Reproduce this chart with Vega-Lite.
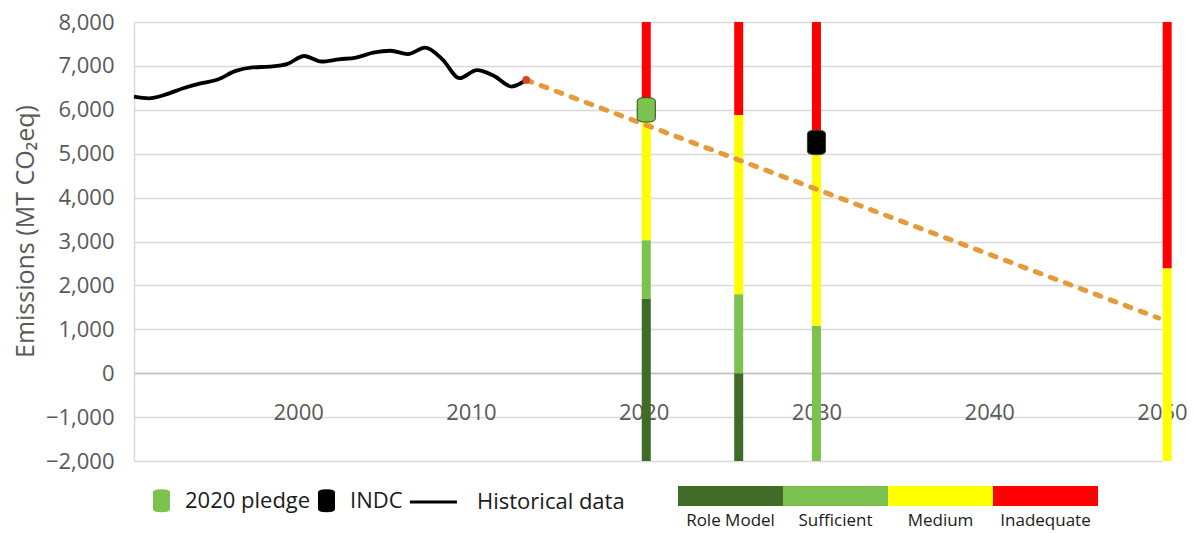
{
  "$schema": "https://vega.github.io/schema/vega-lite/v6.json",
  "width": 1028,
  "height": 439,
  "autosize": {"type": "none"},
  "padding": {"left": 134, "top": 22, "right": 33, "bottom": 72},
  "background": "white",
  "config": {"view": {"stroke": null}},
  "encoding": {
    "x": {
      "field": "year", "type": "quantitative",
      "scale": {"domain": [1990.5, 2050], "nice": false, "zero": false, "padding": 0},
      "axis": {
        "orient": "bottom", "offset": -88, "title": null,
        "values": [2000, 2010, 2020, 2030, 2040, 2050], "format": "d",
        "labelFont": "Open Sans", "labelFontSize": 22, "labelColor": "#595959",
        "labelPadding": 39, "labelBaseline": "middle", "ticks": false, "tickSize": 0,
        "domainColor": "#bfbfbf", "domainWidth": 1.5, "grid": false, "labelFlush": false, "labelOverlap": false
      }
    }
  },
  "layer": [
    {
      "data": {"values": [
        {"year": 2020.15, "rating": "Role Model", "low": -2000, "high": 1700},
        {"year": 2020.15, "rating": "Sufficient", "low": 1700, "high": 3030},
        {"year": 2020.15, "rating": "Medium", "low": 3030, "high": 6000},
        {"year": 2020.15, "rating": "Inadequate", "low": 6000, "high": 8000},
        {"year": 2025.5, "rating": "Role Model", "low": -2000, "high": 0},
        {"year": 2025.5, "rating": "Sufficient", "low": 0, "high": 1800},
        {"year": 2025.5, "rating": "Medium", "low": 1800, "high": 5880},
        {"year": 2025.5, "rating": "Inadequate", "low": 5880, "high": 8000},
        {"year": 2030, "rating": "Sufficient", "low": -2000, "high": 1080},
        {"year": 2030, "rating": "Medium", "low": 1080, "high": 5250},
        {"year": 2030, "rating": "Inadequate", "low": 5250, "high": 8000},
        {"year": 2050.3, "rating": "Medium", "low": -2000, "high": 2390},
        {"year": 2050.3, "rating": "Inadequate", "low": 2390, "high": 8000}
      ]},
      "mark": {"type": "bar", "width": 9, "clip": false},
      "encoding": {
        "y": {
          "field": "low", "type": "quantitative",
          "scale": {"domain": [-2000, 8000], "nice": false, "zero": false},
          "axis": {
            "values": [-2000, -1000, 0, 1000, 2000, 3000, 4000, 5000, 6000, 7000, 8000],
            "format": ",.0f",
            "labelFont": "Open Sans", "labelFontSize": 22, "labelColor": "#595959",
            "labelPadding": 20, "ticks": false, "tickSize": 0,
            "domainColor": "#d9d9d9", "domainWidth": 1.5,
            "grid": true, "gridColor": "#d9d9d9", "gridWidth": 1.5,
            "title": "Emissions (MT CO₂eq)",
            "titleFont": "Open Sans", "titleFontSize": 25, "titleFontWeight": "normal",
            "titleColor": "#595959", "titleX": -109, "titleY": 209, "titleBaseline": "middle", "titleAngle": 270
          }
        },
        "y2": {"field": "high"},
        "color": {
          "field": "rating", "type": "nominal",
          "scale": {"domain": ["Role Model", "Sufficient", "Medium", "Inadequate"], "range": ["#3e6b26", "#7cc24e", "#ffff00", "#ff0000"]},
          "legend": {
            "orient": "none", "legendX": 544, "legendY": 464, "direction": "horizontal",
            "title": null, "padding": 0, "columnPadding": 0,
            "symbolSize": 400, "symbolType": "M-1,-1H9.5V1H-1Z", "symbolStrokeWidth": 0,
            "labelFont": "Open Sans", "labelFontSize": 17, "labelColor": "#1a1a1a",
            "labelAlign": "center", "labelOffset": 32.5,
            "encode": {"labels": {"update": {"dy": {"value": 25}}}}
          }
        }
      }
    },
    {
      "data": {"values": [
        {"year": 2013.2, "value": 6680},
        {"year": 2049.8, "value": 1257}
      ]},
      "mark": {"type": "line", "color": "#e69b3a", "strokeWidth": 5, "strokeDash": [6, 10], "strokeCap": "round"},
      "encoding": {"y": {"field": "value", "type": "quantitative"}}
    },
    {
      "data": {"values": [
        {"year": 1990.5, "value": 6300},
        {"year": 1991.35, "value": 6262},
        {"year": 1992.35, "value": 6350},
        {"year": 1993.35, "value": 6490},
        {"year": 1994.35, "value": 6600},
        {"year": 1995.35, "value": 6690},
        {"year": 1996.35, "value": 6880},
        {"year": 1997.35, "value": 6965},
        {"year": 1998.35, "value": 6985},
        {"year": 1999.35, "value": 7040},
        {"year": 2000.35, "value": 7225},
        {"year": 2001.35, "value": 7100},
        {"year": 2002.35, "value": 7150},
        {"year": 2003.35, "value": 7190},
        {"year": 2004.35, "value": 7300},
        {"year": 2005.35, "value": 7345},
        {"year": 2006.35, "value": 7270},
        {"year": 2007.35, "value": 7415},
        {"year": 2008.35, "value": 7150},
        {"year": 2009.35, "value": 6720},
        {"year": 2010.35, "value": 6905},
        {"year": 2011.35, "value": 6770},
        {"year": 2012.35, "value": 6530},
        {"year": 2013.2, "value": 6680}
      ]},
      "mark": {"type": "line", "color": "#000000", "strokeWidth": 3.8, "interpolate": "monotone"},
      "encoding": {"y": {"field": "value", "type": "quantitative"}}
    },
    {
      "data": {"values": [{"year": 2013.2, "value": 6680}]},
      "mark": {"type": "point", "filled": true, "color": "#d9432b", "size": 60, "opacity": 1},
      "encoding": {"y": {"field": "value", "type": "quantitative"}}
    },
    {
      "data": {"values": [
        {"year": 2020.15, "value": 6000, "series": "2020 pledge"},
        {"year": 2030, "value": 5255, "series": "INDC"}
      ]},
      "mark": {"type": "point", "filled": true, "opacity": 1, "size": 600, "stroke": "#2f4a1a", "strokeWidth": 1},
      "encoding": {
        "y": {"field": "value", "type": "quantitative"},
        "fill": {
          "field": "series", "type": "nominal",
          "scale": {"domain": ["2020 pledge", "INDC", "Historical data"], "range": ["#7cc24e", "#000000", "#000000"]},
          "legend": {
            "orient": "none", "legendX": 15.5, "legendY": 466.5, "direction": "horizontal",
            "title": null, "padding": 0, "columnPadding": 4,
            "symbolSize": 529, "symbolOpacity": 1, "symbolStrokeWidth": 1, "symbolStrokeColor": "#2f4a1a",
            "labelFont": "Open Sans", "labelFontSize": 22, "labelColor": "#1a1a1a", "labelOffset": 11.5
          }
        },
        "shape": {
          "field": "series", "type": "nominal",
          "scale": {
            "domain": ["2020 pledge", "INDC", "Historical data"],
            "range": [
              "M-0.74,-0.72Q-0.74,-1 0,-1Q0.74,-1 0.74,-0.72L0.74,0.72Q0.74,1 0,1Q-0.74,1 -0.74,0.72Z",
              "M-0.74,-0.72Q-0.74,-1 0,-1Q0.74,-1 0.74,-0.72L0.74,0.72Q0.74,1 0,1Q-0.74,1 -0.74,0.72Z",
              "M-3.79,-0.14H0.3V0.14H-3.79Z"
            ]
          },
          "legend": {
            "orient": "none", "legendX": 15.5, "legendY": 466.5, "direction": "horizontal",
            "title": null, "padding": 0, "columnPadding": 4,
            "symbolSize": 529, "symbolOpacity": 1, "symbolStrokeWidth": 1, "symbolStrokeColor": "#2f4a1a",
            "labelFont": "Open Sans", "labelFontSize": 22, "labelColor": "#1a1a1a", "labelOffset": 11.5
          }
        }
      }
    }
  ]
}
